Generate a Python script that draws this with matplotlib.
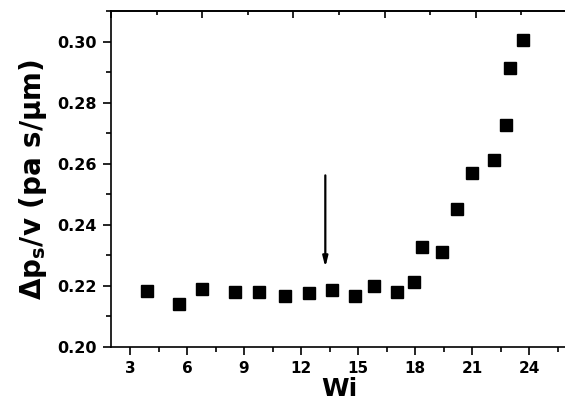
import matplotlib.pyplot as plt
from matplotlib.ticker import MultipleLocator

plt.rcParams['font.family'] = 'DejaVu Sans'
plt.rcParams['font.weight'] = 'bold'
plt.rcParams['mathtext.fontset'] = 'custom'
plt.rcParams['mathtext.bf'] = 'DejaVu Sans:bold'
plt.rcParams['mathtext.default'] = 'bf'

# datos
wi = [3.88, 5.56, 6.77, 8.51, 9.77, 11.14, 12.40, 13.61, 14.86, 15.82,
      17.07, 17.96, 18.35, 19.44, 20.19, 20.98, 22.14, 22.81, 23.00, 23.67]
dp_v = [0.2184, 0.2142, 0.2189, 0.2181, 0.2180, 0.2168, 0.2177, 0.2185, 0.2167, 0.2201,
        0.2181, 0.2213, 0.2326, 0.2310, 0.2451, 0.2570, 0.2611, 0.2727, 0.2913, 0.3006]
arrow_wi = 13.28
arrow_top = 0.2571
arrow_tip = 0.2252

fig = plt.figure(figsize=(5.65, 4.12), dpi=100)
ax = fig.add_axes([111 / 565, 1 - 347 / 412, 456 / 565, 336 / 412])

ax.plot(wi, dp_v, 's', color='black', markersize=8.6)  # cuadrados

# flecha
ax.annotate('', xy=(arrow_wi, arrow_tip), xytext=(arrow_wi, arrow_top),
            arrowprops=dict(arrowstyle='-|>,head_length=0.6,head_width=0.15',
                            color='black', lw=1.6))

ax.set_xlim(2, 26)
ax.set_ylim(0.20, 0.31)
ax.xaxis.set_major_locator(MultipleLocator(3))
ax.xaxis.set_minor_locator(MultipleLocator(1.5))
ax.yaxis.set_major_locator(MultipleLocator(0.02))
ax.yaxis.set_minor_locator(MultipleLocator(0.01))
ax.yaxis.set_major_formatter(plt.FormatStrFormatter('%.2f'))

ax.tick_params(which='major', direction='out', length=6, width=1.2, labelsize=11.5, pad=4)
ax.tick_params(which='minor', direction='out', length=3.5, width=1.2)
ax.tick_params(axis='x', which='major', labelsize=11, pad=4)

# eje superior sin etiquetas
top = ax.secondary_xaxis('top')
top.set_xticks([2 + 4.8 * k for k in range(5)])
top.xaxis.set_minor_locator(plt.FixedLocator([4.4 + 4.8 * k for k in range(5)]))
top.tick_params(which='major', direction='in', length=5, width=1.2, labeltop=False)
top.tick_params(which='minor', direction='in', length=3, width=1.2)

for s in ax.spines.values():
    s.set_linewidth(1.2)
ax.spines['right'].set_visible(False)  # recortado en la imagen
top.spines['top'].set_linewidth(1.2)

ax.set_xlabel('Wi', fontsize=18, fontweight='bold', labelpad=1)
ax.set_ylabel(r'$\Delta p_s$/v (pa s/$\mu$m)', fontsize=20, fontweight='bold', labelpad=6)

fig.savefig('out.png', dpi=100)
